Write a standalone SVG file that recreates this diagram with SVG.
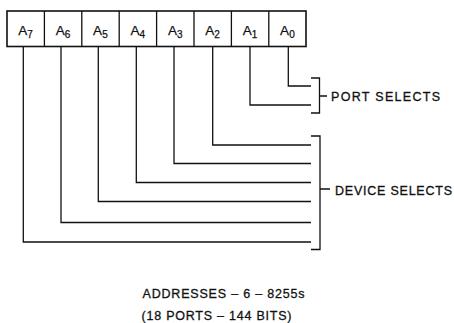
<svg xmlns="http://www.w3.org/2000/svg" width="454" height="323" viewBox="0 0 454 323">
<style>
.box{fill:#fff;stroke:#111;stroke-width:1.6}
.ln{fill:none;stroke:#111;stroke-width:1.3}
.lbl{font-family:"Liberation Sans",Arial,sans-serif;font-size:12.5px;fill:#111;stroke:#111;stroke-width:0.3}
.a{font-family:"Liberation Sans",Arial,sans-serif;font-size:13.5px;fill:#111;stroke:#111;stroke-width:0.25;text-anchor:middle}
.sub{font-size:10px}
</style>
<rect width="454" height="323" fill="#fff"/>
<g id="register">
<rect class="box" x="7" y="11" width="299" height="35.5"/>
<path class="ln" d="M44.4,11V46.5M81.8,11V46.5M119.2,11V46.5M156.6,11V46.5M194,11V46.5M231.4,11V46.5M268.8,11V46.5"/>
</g>
<g id="A7"><text class="a" x="25.5" y="35">A<tspan class="sub" dy="3">7</tspan></text></g>
<g id="A6"><text class="a" x="63" y="35">A<tspan class="sub" dy="3">6</tspan></text></g>
<g id="A5"><text class="a" x="100.4" y="35">A<tspan class="sub" dy="3">5</tspan></text></g>
<g id="A4"><text class="a" x="137.8" y="35">A<tspan class="sub" dy="3">4</tspan></text></g>
<g id="A3"><text class="a" x="175.2" y="35">A<tspan class="sub" dy="3">3</tspan></text></g>
<g id="A2"><text class="a" x="212.6" y="35">A<tspan class="sub" dy="3">2</tspan></text></g>
<g id="A1"><text class="a" x="250" y="35">A<tspan class="sub" dy="3">1</tspan></text></g>
<g id="A0"><text class="a" x="287.4" y="35">A<tspan class="sub" dy="3">0</tspan></text></g>
<g id="connectors">
<path class="ln" d="M288.3,46.5V86H311"/>
<path class="ln" d="M250,46.5V105H311"/>
<path class="ln" d="M212.7,46.5V145H311"/>
<path class="ln" d="M174,46.5V163.5H311"/>
<path class="ln" d="M136.3,46.5V182.5H311"/>
<path class="ln" d="M98.3,46.5V201.5H311"/>
<path class="ln" d="M61,46.5V222.5H311"/>
<path class="ln" d="M23.3,46.5V242H311"/>
</g>
<g id="port-selects">
<path class="ln" d="M311,78H319.5V113H311M319.5,96H327"/>
<text class="lbl" x="331" y="101" textLength="109" lengthAdjust="spacing">PORT SELECTS</text>
</g>
<g id="device-selects">
<path class="ln" d="M311,136H320V249.5H311M320,189H330"/>
<text class="lbl" x="335" y="194.5" textLength="117" lengthAdjust="spacing">DEVICE SELECTS</text>
</g>
<g id="caption">
<text class="lbl" x="142.5" y="298" textLength="162" lengthAdjust="spacing">ADDRESSES – 6 – 8255s</text>
<text class="lbl" x="141.5" y="320" textLength="150" lengthAdjust="spacing">(18 PORTS – 144 BITS)</text>
</g>
</svg>
